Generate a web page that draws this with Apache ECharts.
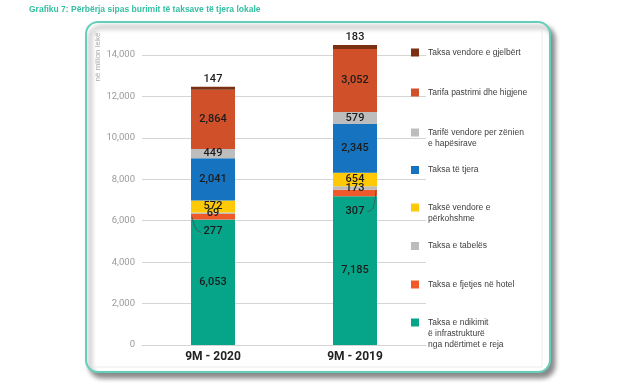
<!DOCTYPE html>
<html>
<head>
<meta charset="utf-8">
<script src="https://cdn.jsdelivr.net/npm/echarts@6/dist/echarts.min.js"></script>
<style>html,body{margin:0;padding:0;background:#fff}#c{width:640px;height:388px}</style>
</head>
<body>
<div id="c"></div>
<script>
const categories = ['9M - 2020', '9M - 2019'];
const ndikimit = [6053, 7185];
const hotel = [277, 307];
const tabeles = [69, 173];
const perkohshme = [572, 654];
const tjera = [2041, 2345];
const zenien = [449, 579];
const pastrimi = [2864, 3052];
const gjelbert = [147, 183];
const yTicks = [0, 2000, 4000, 6000, 8000, 10000, 12000, 14000];

const names = {
  ndikimit: 'Taksa e ndikimit në infrastrukturë nga ndërtimet e reja',
  hotel: 'Taksa e fjetjes në hotel',
  tabeles: 'Taksa e tabelës',
  perkohshme: 'Taksë vendore e përkohshme',
  tjera: 'Taksa të tjera',
  zenien: 'Tarifë vendore per zënien e hapësirave',
  pastrimi: 'Tarifa pastrimi dhe higjene',
  gjelbert: 'Taksa vendore e gjelbërt'
};
const legendText = {
  ndikimit: '\n\nTaksa e ndikimit\në infrastrukturë\nnga ndërtimet e reja',
  hotel: 'Taksa e fjetjes në hotel',
  tabeles: 'Taksa e tabelës',
  perkohshme: '\nTaksë vendore e\npërkohshme',
  tjera: 'Taksa të tjera',
  zenien: '\nTarifë vendore per zënien\ne hapësirave',
  pastrimi: 'Tarifa pastrimi dhe higjene',
  gjelbert: 'Taksa vendore e gjelbërt'
};
const legendTop = {gjelbert: 47, pastrimi: 87, zenien: 116, tjera: 164.5, perkohshme: 191, tabeles: 240.5, hotel: 279, ndikimit: 295};
const colors = {
  ndikimit: '#06a58a', hotel: '#f05a2a', tabeles: '#bcbcbc', perkohshme: '#ffc905',
  tjera: '#1573bf', zenien: '#bdbdbd', pastrimi: '#d0502a', gjelbert: '#7b3012'
};
const seriesData = {ndikimit, hotel, tabeles, perkohshme, tjera, zenien, pastrimi, gjelbert};
const order = ['ndikimit','hotel','tabeles','perkohshme','tjera','zenien','pastrimi','gjelbert'];
const hotelLabelDy = [15, 18];

const fmt = v => v.toLocaleString('en-US');
const labelFont = {fontFamily: 'Roboto', fontSize: 11, fontWeight: 500, color: '#1c1c1c'};
const BAR_W = 44;

const series = order.map(k => {
  const s = {
    name: names[k], type: 'bar', stack: 'a', barWidth: BAR_W, clip: false,
    itemStyle: {color: colors[k]},
    data: seriesData[k],
    label: Object.assign({show: true, position: 'inside', formatter: p => fmt(p.value)}, labelFont)
  };
  if (k === 'gjelbert') { s.label.position = 'top'; s.label.distance = 2; }
  if (k === 'hotel') {
    s.labelLayout = p => ({dy: hotelLabelDy[p.dataIndex]});
  }
  return s;
});

const legends = order.map(k => ({
  data: [names[k]], orient: 'vertical', left: 411, top: legendTop[k], padding: 0,
  icon: 'rect', itemWidth: 8, itemHeight: 8, selectedMode: false,
  formatter: () => legendText[k],
  textStyle: {fontFamily: 'Liberation Sans', fontSize: 8.5, lineHeight: 11, color: '#3d3d3d', padding: [0,0,0,4]}
}));

const baseGraphic = [
  {type: 'rect', z: -10, shape: {x: 86, y: 22, width: 464, height: 350, r: 12},
   style: {fill: '#fff', stroke: '#64cfba', lineWidth: 2, shadowBlur: 5, shadowColor: 'rgba(0,0,0,0.45)', shadowOffsetX: 4, shadowOffsetY: 5}},
  {type: 'rect', z: -9, shape: {x: 93, y: 30, width: 449, height: 337},
   style: {fill: 'none', stroke: '#ebebeb', lineWidth: 1}},
  {type: 'text', left: 29, top: 5, style: {text: 'Grafiku 7: Përbërja sipas burimit të taksave të tjera lokale', fill: '#35bfa2', font: 'bold 8.5px "Liberation Sans"'}},
  {type: 'text', x: 98, y: 57, rotation: Math.PI / 2, style: {text: 'në milion lekë', fill: '#aaaaaa', font: '8px "Liberation Sans"', align: 'center', verticalAlign: 'middle'}}
];

const chart = echarts.init(document.getElementById('c'), null, {renderer: 'canvas'});
chart.setOption({
  animation: false,
  backgroundColor: '#fff',
  color: order.map(k => colors[k]),
  grid: {left: 142, right: 214, top: 55, bottom: 43},
  legend: legends,
  graphic: baseGraphic,
  xAxis: {
    type: 'category', data: categories,
    axisLine: {show: true, lineStyle: {color: '#d5d5d5'}},
    axisTick: {show: false},
    axisLabel: {margin: 6, fontFamily: 'Roboto', fontSize: 12, fontWeight: 'bold', color: '#222'}
  },
  yAxis: {
    type: 'value', min: yTicks[0], max: yTicks[yTicks.length - 1], interval: 2000,
    axisLine: {show: false}, axisTick: {show: false},
    splitLine: {lineStyle: {color: '#d5d5d5', width: 1}},
    axisLabel: {margin: 7, fontFamily: 'Roboto', fontSize: 9.5, color: '#9a9a9a', formatter: v => fmt(v)}
  },
  series
});

// leader lines for the hotel-tax labels, positioned from the chart's own scales
const leaders = categories.map((c, i) => {
  const mid = chart.convertToPixel({gridIndex: 0}, [i, ndikimit[i] + hotel[i] / 2]);
  const cx = mid[0], my = mid[1];
  const cy = my + hotelLabelDy[i];
  const half = BAR_W / 2;
  let pts;
  if (i === 0) {
    pts = [[cx - half + 1, my], [cx - half + 5, cy - 3], [cx - 12, cy + 1]];
  } else {
    pts = [[cx + half - 1, my - 3], [cx + half - 4, cy - 3], [cx + 12, cy + 1]];
  }
  return {type: 'polyline', z: 100, shape: {points: pts, smooth: 0.4}, style: {stroke: '#4a4a4a', lineWidth: 0.8, fill: 'none'}};
});
chart.setOption({graphic: baseGraphic.concat(leaders)});
</script>
</body>
</html>
